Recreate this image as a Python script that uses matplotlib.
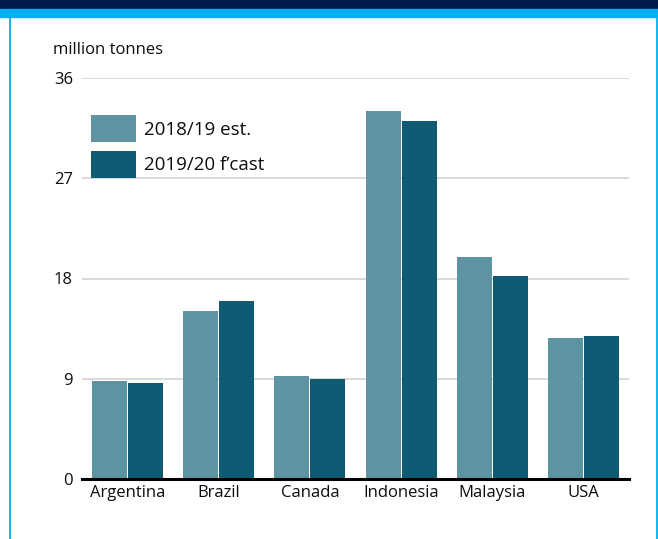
import matplotlib.pyplot as plt
import numpy as np
from matplotlib.patches import Rectangle
from matplotlib.lines import Line2D

plt.rcParams['font.family'] = ['Open Sans', 'DejaVu Sans']

# data
countries = ['Argentina', 'Brazil', 'Canada', 'Indonesia', 'Malaysia', 'USA']
est_2018 = [8.8, 15.1, 9.25, 33.0, 19.9, 12.65]
fcast_2019 = [8.6, 16.0, 9.0, 32.1, 18.2, 12.8]
series_labels = ['2018/19 est.', '2019/20 f\u2019cast']
yticks = [0, 9, 18, 27, 36]

c_est = '#5e93a2'
c_fcast = '#0e5b73'
navy = '#001a4b'
sky = '#00b0f0'
ink = '#0d0d0d'

W, H = 658, 539
fig = plt.figure(figsize=(W / 100, H / 100), dpi=100)

# header bands and side frame
fig.patches.append(Rectangle((0, 1 - 9 / H), 1, 9 / H, transform=fig.transFigure,
                             color=navy, zorder=0))
fig.patches.append(Rectangle((0, 1 - 17 / H), 1, 8 / H, transform=fig.transFigure,
                             color=sky, zorder=0))
for xp in (9.5, 656.5):
    fig.lines.append(Line2D([xp / W, xp / W], [0, 1 - 17 / H], transform=fig.transFigure,
                            color=sky, lw=1.3))

ax = fig.add_axes([82 / W, 1 - 479 / H, (629 - 82) / W, (479 - 78) / H])

x = np.arange(len(countries))
bw = 0.384
off = 0.197
ax.bar(x - off, est_2018, bw, color=c_est, label=series_labels[0], zorder=3)
ax.bar(x + off, fcast_2019, bw, color=c_fcast, label=series_labels[1], zorder=3)

ax.set_xlim(-0.5, len(countries) - 0.5)
ax.set_ylim(0, 36)
ax.set_yticks(yticks)
ax.set_yticklabels([str(t) for t in yticks])
ax.set_xticks(x)
ax.set_xticklabels(countries)
ax.tick_params(axis='both', length=0, labelsize=12, colors=ink)
ax.tick_params(axis='y', pad=6.5)
ax.tick_params(axis='x', pad=4)

ax.grid(axis='y', color='#d0d0d0', lw=1.1, zorder=0)
for s in ('top', 'right', 'left'):
    ax.spines[s].set_visible(False)
ax.spines['bottom'].set_color('black')
ax.spines['bottom'].set_linewidth(2.2)
ax.spines['bottom'].set_zorder(5)

fig.text(53 / W, 1 - 50 / H, 'million tonnes', fontsize=12, color=ink,
         ha='left', va='center')

# legend swatches are 45 x 27 px in the reference, rows 36 px apart
fs = 13.5
fpx = fs * 100 / 72
hh = (27 / fpx - 0.245) / 0.65
leg = ax.legend(loc='upper left', bbox_to_anchor=(91 / W, 1 - 115 / H),
                bbox_transform=fig.transFigure, frameon=False, fontsize=fs,
                handlelength=45 / fpx, handleheight=hh, handletextpad=8 / fpx,
                labelspacing=8.5 / fpx, borderpad=0, borderaxespad=0)
for t in leg.get_texts():
    t.set_color(ink)

fig.savefig('out.png', dpi=100)
